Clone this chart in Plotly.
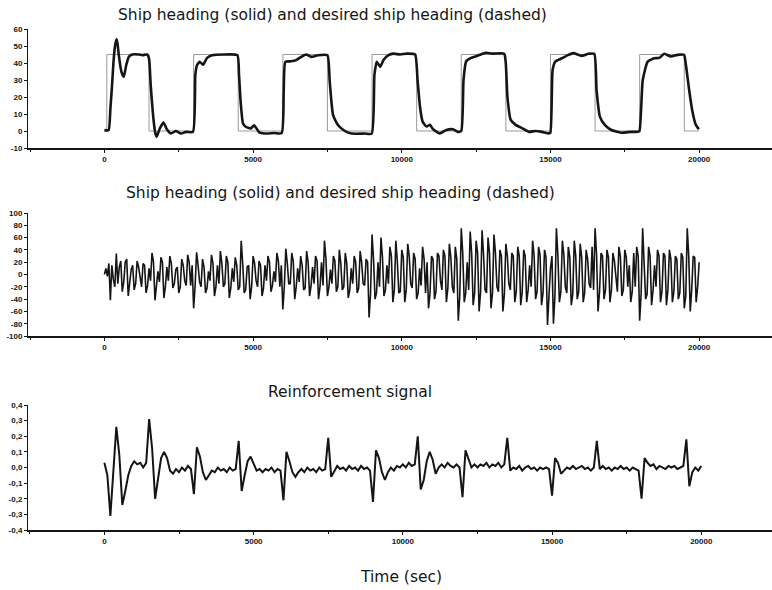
import plotly.graph_objects as go

# ---------------- data ----------------
# Top panel: desired heading (step changes) and actual heading
desired_t = [0, 80, 1500, 3000, 4500, 6000, 7500, 9000, 10500, 12000, 13500, 15000, 16500, 18000, 19500, 20000]
desired_v = [0, 45, 0, 45, 0, 45, 0, 45, 0, 45, 0, 45, 0, 45, 0, 0]

heading_t = [0, 140, 200, 257, 313, 370, 415, 450, 483, 573, 652, 732, 822, 935, 1160, 1275, 1440,
             1500, 1556, 1636, 1703, 1760, 1862, 1986, 2099, 2235, 2404, 2574, 2743, 2977,
             3057, 3113, 3203, 3316, 3452, 3622, 4017, 4469, 4526, 4582, 4661, 4752, 4921, 5035,
             5205, 5373, 5712, 5961,
             6029, 6085, 6277, 6447, 6616, 6786, 6955, 7181, 7498, 7577, 7690, 7860, 8086, 8312,
             8764, 8990,
             9080, 9159, 9272, 9385, 9554, 9720, 9945, 10167, 10445, 10530, 10611, 10700, 10833,
             10944, 11055, 11277, 11500, 11721, 11888, 12000,
             12076, 12165, 12332, 12498, 12720, 12831, 13053, 13442, 13497, 13553, 13664, 13830,
             14052, 14274, 14496, 14718, 14940,
             14996, 15073, 15162, 15384, 15606, 15773, 16050, 16272, 16472, 16550, 16661, 16827,
             17049, 17382, 17715, 17937,
             17993, 18104, 18270, 18492, 18659, 18825, 19047, 19269, 19491, 19546, 19657, 19768,
             19879, 19990]
heading_v = [0.5, 0.5, 13, 27, 42.6, 51.5, 54, 50, 44.6, 34.8, 31.9, 38.7, 43.6, 45, 45, 44.6, 45,
             42.6, 27, 9.3, -0.5, -3.4, 1.5, 5, 1, -1.5, 0, -1.5, -0.5, -0.5,
             33, 38.7, 40.7, 39, 43, 44.6, 45, 44.6, 33, 17, 4.4, 2.5, 1.5, 3.4,
             -0.8, -1.5, -1.2, -1.2,
             23, 40.7, 41, 41.7, 43.6, 45, 43.6, 44.6, 44.6, 29, 9.3, 3.4, 0, -1.5,
             -1.5, -1.5,
             33, 40.7, 37.7, 41.7, 44.6, 45.5, 45, 45.5, 45, 30, 14.4, 5.5, 2.6,
             3.6, 1, -1.4, 0.6, 1, -0.5, 0,
             30, 41, 43, 44, 45.5, 46, 45.5, 45.5, 40, 20, 6.5, 3.6,
             1.6, -0.5, 0, -0.5, -1.4,
             -1, 36, 40.8, 42.8, 44.8, 45.8, 44.2, 45.4, 45.4, 24, 8.5, 3.6,
             0.6, -1, -0.5, -0.5,
             0, 30, 40.8, 42.8, 43, 45.4, 43.8, 44.8, 44.8, 40, 25, 12,
             4, 1]

# Middle panel: values read at t = 0, 100, ..., 20000
rudder_t = list(range(0, 20001, 100))
rudder_v = [
    0, -3, -42, -8, 34, 12, -28, 20, -35, 8,
    -25, 22, -5, 18, -30, 10, 35, -42, 5, 28,
    -38, 12, 30, -22, 8, -30, 25, -10, 32, -18,
    -55, 36, -12, 25, -30, 5, 32, -35, 15, 38,
    -20, 30, -38, 10, 28, -25, 55, -30, 12, -40,
    30, -10, 22, -35, 15, 30, -28, 5, 35, -20,
    -57, 42, -15, 35, -40, 10, 30, -25, 38, -35,
    12, 30, -40, 20, 55, -35, 8, 30, -28, 40,
    -25, 35, -38, 10, 30, -30, 38, -15, 25, -70,
    65, -40, 20, 60, -35, 15, 45, -45, 55, -30,
    40, -45, 50, -15, 35, -40, 10, 45, -30, -55,
    30, -40, 35, -10, 40, -45, 50, -20, 45, -75,
    75, -45, 20, 70, -50, 55, -60, 72, -25, 60,
    -55, 65, -20, 40, -60, 50, -15, 35, -45, 45,
    -50, 40, -45, 15, 55, -40, 45, -50, 40, -82,
    10, -80, 75, -45, 55, -20, 45, -50, 55, -40,
    50, -45, 40, -15, 45, 75, -60, 35, -40, 40,
    -45, 35, -10, 45, -35, 40, -20, -45, 35, 45,
    -75, 75, -40, 45, -50, 15, 40, -45, 35, -50,
    40, -45, 30, -40, 35, -55, 75, -60, 30, -45,
    20]
# Middle panel: values read at the half-way instants t = 50, 150, ..., 19950
rudder_mid_t = list(range(50, 20000, 100))
rudder_mid_v = [
    10, 18, 15, -20, -15, 22, -12, 25, -10, 15,
    -15, 12, -20, 15, -18, -10, 20, -15, -12, 20,
    -20, -10, 18, -15, 12, -20, 15, -18, 20, 15,
    -18, 15, -20, 12, -22, -10, 18, -20, -15, 18,
    -15, 20, -22, -12, 15, -20, 18, -25, 15, -20,
    18, -20, 15, -22, -10, 20, -18, -12, 22, 15,
    -20, 18, -15, 22, -20, -12, 15, -22, 20, -18,
    -15, 22, -20, -18, 25, -20, -15, 22, -20, 18,
    -20, 18, -25, -15, 20, -22, 20, -18, 20, -30,
    25, -30, -20, 28, -25, -15, 30, -25, 22, -28,
    28, -25, 30, -22, 25, -30, -18, 25, 20, -30,
    25, -28, 30, -25, 30, -22, 28, -30, 25, -35,
    35, -30, -25, 35, -30, 35, -28, 32, -30, 35,
    -30, 35, -28, 30, -32, 30, -25, 30, -28, 30,
    -28, 30, -25, -20, 30, -28, 32, -30, 28, -35,
    30, -35, 30, -28, 32, -30, 28, -32, 30, -28,
    28, -30, 25, -22, -25, 32, -28, 30, -25, 28,
    -25, 22, -28, 30, -25, 28, 15, -28, -20, 30,
    -30, 28, -32, 30, -25, -20, 30, -28, 30, -25,
    25, -28, 25, -30, 28, -35, 30, -25, 28, -20]

# Bottom panel: reinforcement signal at t = 0, 100, ..., 20000
reinf_t = list(range(0, 20001, 100))
reinf_v = [
    0.03, -0.05, -0.31, -0.02, 0.26, 0.08, -0.24, -0.15, -0.05, 0.01,
    0.04, 0.02, 0.03, 0.0, 0.03, 0.31, 0.12, -0.2, -0.08, 0.06,
    0.1, 0.06, -0.02, -0.04, -0.01, -0.03, 0.0, -0.02, 0.01, -0.01,
    -0.17, 0.13, 0.07, -0.03, -0.08, -0.05, -0.02, -0.03, 0.0, -0.02,
    -0.01, -0.03, 0.0, -0.02, -0.01, 0.17, -0.15, -0.05, 0.04, 0.07,
    0.02, -0.02, -0.01, -0.03, -0.01, -0.02, 0.0, -0.03, -0.01, -0.02,
    -0.21, 0.1, 0.04, -0.03, -0.06, -0.03, -0.01, -0.03, 0.0, -0.02,
    -0.01, -0.03, 0.0, -0.02, -0.01, 0.19, -0.06, -0.02, 0.01, -0.01,
    0.0, -0.02, 0.01, -0.01, 0.0, -0.02, 0.01, -0.01, 0.0, -0.02,
    -0.22, 0.11, 0.06, -0.03, -0.08, -0.03, 0.0, -0.02, 0.01, 0.0,
    0.02, 0.0, 0.03, 0.01, 0.02, 0.2, -0.14, -0.08, 0.04, 0.1,
    0.05, -0.04, 0.0, 0.02, 0.0, 0.03, 0.01, 0.0, 0.02, 0.0,
    -0.19, 0.11, 0.06, 0.0, 0.02, 0.0, 0.02, 0.01, 0.03, 0.0,
    0.02, 0.01, 0.03, 0.0, 0.02, 0.19, -0.02, 0.0, -0.01, 0.01,
    -0.02, 0.0, 0.01, -0.01, 0.0, -0.02, 0.0, -0.01, 0.0, -0.01,
    -0.18, 0.06, 0.03, -0.04, -0.02, 0.0, -0.01, 0.01, -0.01, 0.0,
    0.01, -0.01, 0.0, -0.02, 0.0, 0.17, -0.01, 0.01, -0.01, 0.0,
    -0.02, 0.0, -0.01, 0.01, -0.01, 0.0, -0.02, 0.0, -0.01, -0.02,
    -0.2, 0.06, 0.03, 0.01, 0.02, -0.01, 0.01, 0.0, -0.01, 0.01,
    0.0, 0.01, -0.01, 0.0, 0.01, 0.18, -0.12, -0.03, 0.0, -0.02,
    0.01]

# Tick labels
x_tickvals = [0, 5000, 10000, 15000, 20000]
x_ticktext = ["0", "5000", "10000", "15000", "20000"]
x_minorvals = [-2500, 2500, 7500, 12500, 17500, 22500]
y1_tickvals = [60, 50, 40, 30, 20, 10, 0, -10]
y1_ticktext = ["60", "50", "40", "30", "20", "10", "0", "-10"]
y2_tickvals = [100, 80, 60, 40, 20, 0, -20, -40, -60, -80, -100]
y2_ticktext = ["100", "80", "60", "40", "20", "0", "-20", "-40", "-60", "-80", "-100"]
y3_tickvals = [0.4, 0.3, 0.2, 0.1, 0.0, -0.1, -0.2, -0.3, -0.4]
y3_ticktext = ["0,4", "0,3", "0,2", "0,1", "0,0", "-0,1", "-0,2", "-0,3", "-0,4"]

titles = ["Ship heading (solid) and desired ship heading (dashed)",
          "Ship heading (solid) and desired ship heading (dashed)",
          "Reinforcement signal"]
x_title = "Time (sec)"

# merge the two sets of middle-panel readings in time order
rudder_pts = sorted(zip(rudder_t + rudder_mid_t, rudder_v + rudder_mid_v))
rudder_all_t = [p[0] for p in rudder_pts]
rudder_all_v = [p[1] for p in rudder_pts]

# ---------------- figure ----------------
W, H = 772, 590
INK = "#151515"

fig = go.Figure()
fig.add_trace(go.Scatter(x=desired_t, y=desired_v, mode="lines", line=dict(color="#9a9a9a", width=1, shape="hv"),
                         xaxis="x", yaxis="y", showlegend=False))
fig.add_trace(go.Scatter(x=heading_t, y=heading_v, mode="lines",
                         line=dict(color=INK, width=2.6, shape="spline", smoothing=0.5),
                         xaxis="x", yaxis="y", showlegend=False))
fig.add_trace(go.Scatter(x=rudder_all_t, y=rudder_all_v, mode="lines", line=dict(color=INK, width=1.6),
                         xaxis="x2", yaxis="y2", showlegend=False))
fig.add_trace(go.Scatter(x=reinf_t, y=reinf_v, mode="lines", line=dict(color=INK, width=2),
                         xaxis="x3", yaxis="y3", showlegend=False))

tickfont = dict(family="Liberation Sans, Arial, sans-serif", size=8, color=INK, weight="bold")


def xax(anchor, rng):
    return dict(domain=[28 / W, 1.0], range=rng, anchor=anchor, automargin=False,
                showline=True, linecolor=INK, linewidth=1.6,
                ticks="outside", ticklen=3, tickwidth=1, tickcolor=INK, tickvals=x_tickvals,
                ticktext=x_ticktext, tickfont=tickfont, showgrid=False, zeroline=False,
                minor=dict(ticks="outside", ticklen=2, tickcolor=INK, tickvals=x_minorvals, showgrid=False))


def yax(anchor, dom, rng, tv, tt):
    return dict(domain=dom, range=rng, anchor=anchor, automargin=False,
                showline=True, linecolor=INK, linewidth=1,
                ticks="outside", ticklen=3, tickwidth=1, tickcolor=INK, tickvals=tv, ticktext=tt,
                tickfont=tickfont, showgrid=False, zeroline=False)


def dom(top_px, bot_px):
    return [1 - bot_px / H, 1 - top_px / H]


fig.update_layout(
    width=W, height=H, margin=dict(l=0, r=0, t=0, b=0, autoexpand=False),
    paper_bgcolor="white", plot_bgcolor="white",
    xaxis=xax("y", [-2570, 22450]),
    xaxis2=xax("y2", [-2570, 22450]),
    xaxis3=xax("y3", [-2560, 22370]),
    yaxis=yax("x", dom(29, 148), [-10, 60], y1_tickvals, y1_ticktext),
    yaxis2=yax("x2", dom(213, 336), [-100, 100], y2_tickvals, y2_ticktext),
    yaxis3=yax("x3", dom(405, 530), [-0.4, 0.4], y3_tickvals, y3_ticktext),
)

title_font = dict(family="DejaVu Sans, Liberation Sans, sans-serif", size=15.5, color=INK)
for text, xpx, ypx in [(titles[0], 332, 15), (titles[1], 340, 193), (titles[2], 350, 392), (x_title, 401, 577)]:
    fig.add_annotation(text=text, xref="paper", yref="paper", x=xpx / W, y=1 - ypx / H,
                       xanchor="center", yanchor="middle", showarrow=False, font=title_font)

fig.write_html("out.html", config={"displayModeBar": False},
               post_script="document.body.style.margin='0';")
